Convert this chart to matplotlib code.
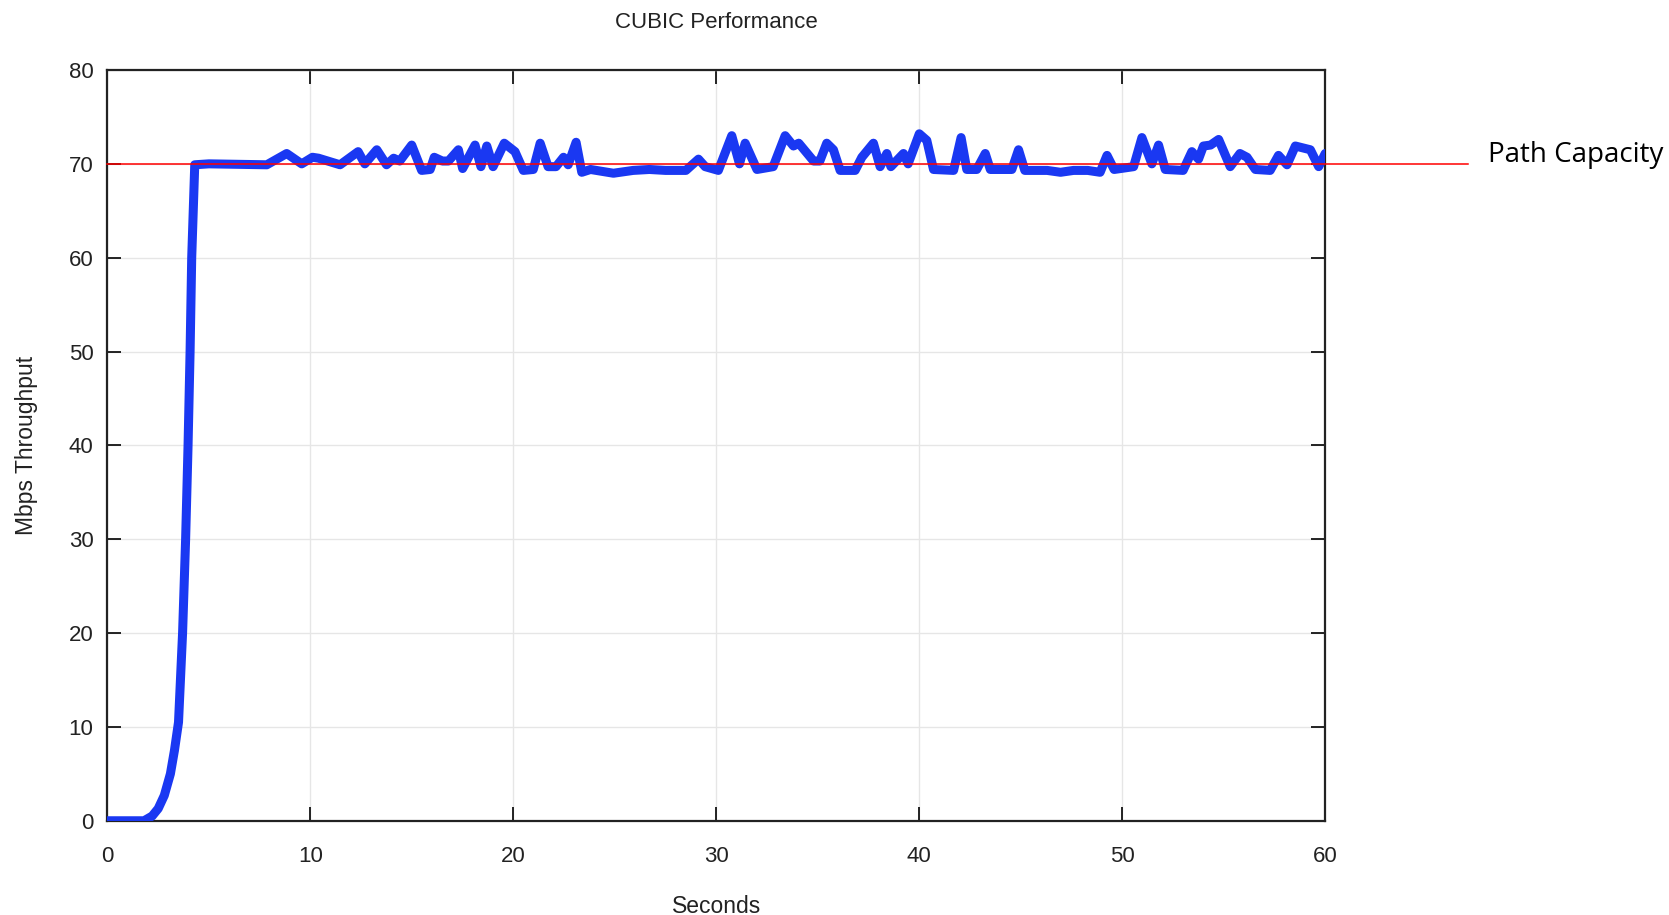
import matplotlib
matplotlib.use("Agg")
import matplotlib.pyplot as plt

# throughput samples (seconds, Mbps)
seconds = [0, 1.8, 2.2, 2.5, 2.8, 3.1, 3.3, 3.5, 3.7, 3.85, 3.97, 4.07, 4.15, 4.3,
           5.0, 7.85, 8.83, 9.57, 10.1, 10.4, 11.46, 12.35, 12.68, 13.27, 13.75,
           14.1, 14.4, 14.99, 15.48, 15.9, 16.1, 16.5, 16.8, 17.29, 17.5, 18.11,
           18.4, 18.69, 19.0, 19.55, 20.08, 20.49, 20.98, 21.32, 21.71, 22.1,
           22.47, 22.7, 23.09, 23.37, 23.8, 24.93, 25.9, 26.7, 27.5, 28.5, 29.12,
           29.45, 30.1, 30.76, 31.14, 31.42, 32.0, 32.8, 33.39, 33.8, 34.06,
           34.79, 35.1, 35.44, 35.77, 36.1, 36.84, 37.17, 37.74, 38.07, 38.4,
           38.6, 39.22, 39.45, 40.0, 40.37, 40.7, 41.69, 42.06, 42.34, 42.83,
           43.25, 43.5, 44.56, 44.89, 45.2, 46.3, 46.96, 47.6, 48.3, 48.91,
           49.25, 49.6, 50.56, 50.97, 51.46, 51.79, 52.12, 53.0, 53.43, 53.76,
           54.0, 54.35, 54.75, 55.32, 55.8, 56.15, 56.56, 57.29, 57.7, 58.12,
           58.53, 59.27, 59.68, 60.0]
mbps = [0, 0, 0.5, 1.3, 2.7, 5, 7.5, 10.5, 20, 30, 40, 50, 60, 69.9,
        70.0, 69.9, 71.1, 70.0, 70.7, 70.6, 69.9, 71.3, 70.0, 71.5, 69.9,
        70.6, 70.3, 72.0, 69.3, 69.4, 70.7, 70.3, 70.3, 71.5, 69.5, 72.0,
        69.7, 71.9, 69.7, 72.2, 71.3, 69.3, 69.4, 72.2, 69.7, 69.7,
        70.7, 69.9, 72.3, 69.1, 69.4, 69.0, 69.3, 69.4, 69.3, 69.3, 70.5,
        69.7, 69.3, 73.0, 70.0, 72.2, 69.4, 69.7, 73.0, 71.9, 72.2,
        70.3, 70.3, 72.2, 71.5, 69.3, 69.3, 70.7, 72.2, 69.7, 71.1,
        69.7, 71.1, 70.0, 73.2, 72.5, 69.4, 69.3, 72.8, 69.4, 69.4,
        71.1, 69.4, 69.4, 71.5, 69.3, 69.3, 69.1, 69.3, 69.3, 69.1,
        70.9, 69.4, 69.7, 72.8, 70.0, 72.0, 69.4, 69.3, 71.3, 70.5,
        71.9, 72.0, 72.6, 69.7, 71.1, 70.7, 69.4, 69.3, 70.9, 69.9,
        71.9, 71.5, 69.7, 71.1]
capacity = 70

plt.rcParams['font.family'] = ['Liberation Sans', 'DejaVu Sans']

fig = plt.figure(figsize=(16.69, 9.15), dpi=100)
ax = fig.add_axes([0.0644, 0.103, 0.7296, 0.8205])

ax.plot(seconds, mbps, color='#1a38f2', lw=6.5, solid_joinstyle='round',
        solid_capstyle='round', zorder=3)

# red path capacity line, runs past the right edge of the axes
ax.plot([0, 1.1175], [capacity, capacity], color='red', lw=1.1,
        transform=ax.get_yaxis_transform(), clip_on=False, zorder=4)
ax.text(1.134, capacity + 0.9, 'Path Capacity', transform=ax.get_yaxis_transform(),
        fontsize=20, family=['Open Sans', 'DejaVu Sans'], va='center', ha='left')

ax.set_xlim(0, 60)
ax.set_ylim(0, 80)
ax.set_xticks(range(0, 61, 10))
ax.set_yticks(range(0, 81, 10))
ax.grid(True, color='#e6e6e6', lw=1)
ax.set_axisbelow(True)
ax.tick_params(direction='in', length=10, width=1.2, top=True, right=True,
               labelsize=16, labelcolor='#222222')
ax.tick_params(axis='x', pad=18)
ax.tick_params(axis='y', pad=10)
for s in ax.spines.values():
    s.set_linewidth(1.6)
    s.set_color('#222222')

ax.set_title('CUBIC Performance', fontsize=16, pad=30, color='#222222')
ax.set_xlabel('Seconds', fontsize=16.5, labelpad=20, color='#222222')
ax.set_ylabel('Mbps Throughput', fontsize=16.5, labelpad=22, color='#222222')

fig.savefig('out.png', dpi=100)
